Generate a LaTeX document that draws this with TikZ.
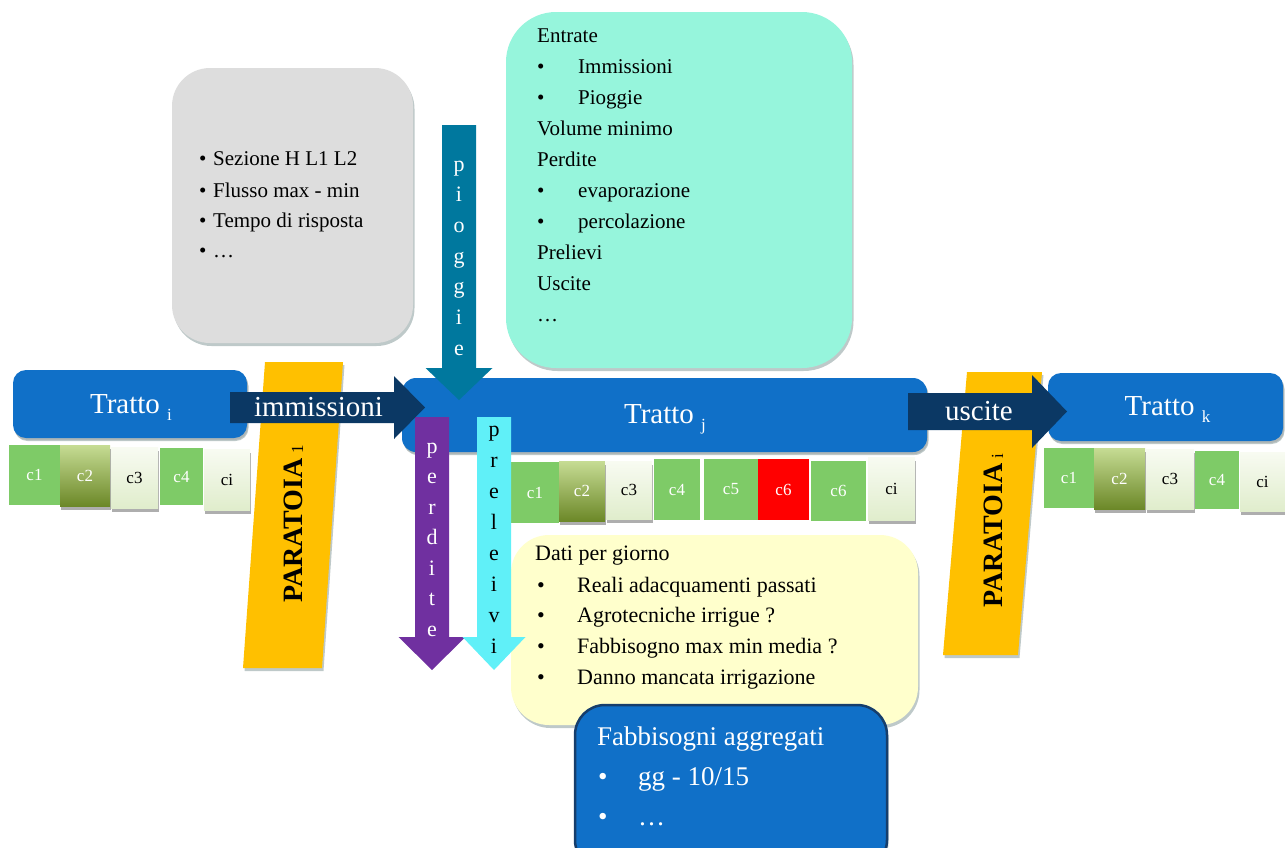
\documentclass[tikz,border=0pt]{standalone}
\usepackage{fontspec}
\setmainfont{Liberation Serif}
\usetikzlibrary{shadows}

\definecolor{trattoblue}{RGB}{16,112,200}
\definecolor{navyarrow}{RGB}{11,56,100}
\definecolor{rainarrow}{RGB}{0,120,158}
\definecolor{lossarrow}{RGB}{112,48,160}
\definecolor{drawarrow}{RGB}{96,240,248}
\definecolor{panelgray}{RGB}{221,221,221}
\definecolor{panelmint}{RGB}{150,245,220}
\definecolor{panelcream}{RGB}{255,255,204}
\definecolor{gateyellow}{RGB}{255,192,0}
\definecolor{cropgreen}{RGB}{126,203,103}
\definecolor{olivetop}{RGB}{198,220,148}
\definecolor{olivebot}{RGB}{108,136,40}
\definecolor{paletop}{RGB}{248,251,242}
\definecolor{palebot}{RGB}{224,237,204}
\definecolor{boxedge}{RGB}{22,62,108}
\definecolor{shadowtone}{RGB}{70,100,100}

\newcommand\fsz[1]{\fontsize{#1}{#1}\selectfont}
\newcommand\lowsub[1]{\ \raisebox{-7pt}{\fsz{17}#1}}

% crop cell: name, x1, x2, y1, y2, style, label
\newcommand\cellbox[7]{%
  \node[cell,#6,minimum width={(#3-#2)*1pt},minimum height={(#5-#4)*1pt}]
    (#1) at ({(#2+#3)/2},{(#4+#5)/2}) {#7};}

% horizontal block arrow: x0, x1 (head base), xtip, ymid, half shaft, half head, colour
\newcommand\harrow[7]{%
  \fill[#7] (#1,#4-#5) -- (#2,#4-#5) -- (#2,#4-#6) -- (#3,#4)
     -- (#2,#4+#6) -- (#2,#4+#5) -- (#1,#4+#5) -- cycle;}
% vertical block arrow: xmid, y0, y1 (head base), ytip, half shaft, half head, colour
\newcommand\varrow[7]{%
  \fill[#7] (#1-#5,#2) -- (#1+#5,#2) -- (#1+#5,#3) -- (#1+#6,#3) -- (#1,#4)
     -- (#1-#6,#3) -- (#1-#5,#3) -- cycle;}

% text lines inside the panels
\newcommand\plainline[4]{\node[paneltext] (#1) at (#2,#3) {#4};}
\newcommand\dotline[5]{\node[paneltext] (#1b) at (#2,#4) {•};
  \node[paneltext] (#1) at (#3,#4) {#5};}

\tikzset{
  panelshadow/.style={drop shadow={shadow xshift=1.5pt,shadow yshift=-3pt,opacity=0.35,fill=shadowtone}},
  panel/.style={inner sep=0pt,outer sep=0pt,panelshadow},
  cell/.style={inner sep=0pt,outer sep=0pt,font=\fsz{17}},
  cellshadow/.style={drop shadow={shadow xshift=1pt,shadow yshift=-4pt,opacity=0.45,fill=black!70}},
  cellgreen/.style={fill=cropgreen,text=white},
  cellolive/.style={top color=olivetop,bottom color=olivebot,text=white,cellshadow},
  cellpale/.style={top color=paletop,bottom color=palebot,text=black,cellshadow},
  cellred/.style={fill=red,text=white},
  trattobox/.style={panel,fill=trattoblue,rounded corners=13pt,drop shadow={shadow xshift=1pt,shadow yshift=-2pt,opacity=0.25}},
  trattolabel/.style={inner sep=0pt,anchor=base,font=\fsz{29},text=white},
  flowlabel/.style={inner sep=0pt,anchor=base,font=\fsz{29},text=white},
  arrowletter/.style={inner sep=0pt,anchor=base,font=\fsz{22}},
  gatelabel/.style={inner sep=0pt,anchor=base west,rotate=90,font=\fsz{28}\bfseries},
  paneltext/.style={inner sep=0pt,anchor=base west,font=\fsz{21}},
}

\begin{document}
\begin{tikzpicture}[x=1pt,y=-1pt]
\useasboundingbox (0,0) rectangle (1285,847);
\clip (0,0) rectangle (1285,847);

% ---------- information panels ----------
\node[panel,fill=panelgray,rounded corners=38pt,minimum width=241pt,minimum height=275pt] (spec) at (292.5,205.5) {};
\node[panel,fill=panelmint,rounded corners=50pt,minimum width=346pt,minimum height=356pt] (balance) at (679,190) {};
\node[panel,fill=panelcream,rounded corners=38pt,minimum width=407pt,minimum height=190pt] (daily) at (714.5,630) {};
\node[panel,fill=trattoblue,draw=boxedge,line width=2.5pt,rounded corners=30pt,minimum width=312pt,minimum height=165pt] (needs) at (731,787.5) {};

% gray panel text
\dotline{s1}{199}{213}{165}{Sezione H L1 L2}
\dotline{s2}{199}{213}{197}{Flusso max - min}
\dotline{s3}{199}{213}{227}{Tempo di risposta}
\dotline{s4}{199}{213}{257}{…}

% mint panel text
\plainline{b1}{537}{42}{Entrate}
\dotline{b2}{537}{578}{73}{Immissioni}
\dotline{b3}{537}{578}{104}{Pioggie}
\plainline{b4}{537}{135}{Volume minimo}
\plainline{b5}{537}{166}{Perdite}
\dotline{b6}{537}{578}{197}{evaporazione}
\dotline{b7}{537}{578}{228}{percolazione}
\plainline{b8}{537}{259}{Prelievi}
\plainline{b9}{537}{290}{Uscite}
\plainline{b10}{537}{321}{…}

% cream panel text
\begin{scope}[paneltext/.append style={font=\fsz{22}}]
\plainline{d1}{535}{560}{Dati per giorno}
\dotline{d2}{537}{577}{592}{Reali adacquamenti passati}
\dotline{d3}{537}{577}{622}{Agrotecniche irrigue ?}
\dotline{d4}{537}{577}{653}{Fabbisogno max min media ?}
\dotline{d5}{537}{577}{684}{Danno mancata irrigazione}
\end{scope}

% ---------- gates ----------
\fill[gateyellow,panelshadow] (265,362) -- (343,362) -- (322,668) -- (243,668) -- cycle;
\fill[gateyellow,panelshadow] (967,372) -- (1042,372) -- (1018,655) -- (943,655) -- cycle;
\node[gatelabel] (gate1) at (302,603) {PARATOIA\raisebox{-1pt}{\fsz{17}\mdseries\ 1}};
\node[gatelabel] (gatei) at (1002,608) {PARATOIA\raisebox{-1pt}{\fsz{17}\mdseries\ i}};

% ---------- channel reaches ----------
\node[trattobox,minimum width=234pt,minimum height=68pt] (ti) at (130,404) {};
\node[trattobox,minimum width=525pt,minimum height=74pt,rounded corners=14pt] (tj) at (664.5,415) {};
\node[trattobox,minimum width=235pt,minimum height=68pt] (tk) at (1165.5,407) {};
\node[trattolabel] (til) at (131,413) {Tratto\lowsub{i}};
\node[trattolabel] (tjl) at (665,423) {Tratto\lowsub{j}};
\node[trattolabel] (tkl) at (1167.5,415) {Tratto\lowsub{k}};

% ---------- crop cells ----------
\cellbox{li1}{9}{60}{445}{505}{cellgreen}{c1}
\cellbox{li2}{60}{110}{445}{506}{cellolive}{c2}
\cellbox{li3}{111}{158}{447}{508}{cellpale}{c3}
\cellbox{li4}{160}{203}{448}{505}{cellgreen}{c4}
\cellbox{li5}{204}{250}{449}{510}{cellpale}{ci}

\cellbox{mj1}{511}{559}{462}{523}{cellgreen}{c1}
\cellbox{mj2}{559}{605}{461}{521}{cellolive}{c2}
\cellbox{mj3}{606}{652}{461}{519}{cellpale}{c3}
\cellbox{mj4}{654}{700}{459}{520}{cellgreen}{c4}
\cellbox{mj5}{704}{758}{459}{520}{cellgreen}{c5}
\cellbox{mj6}{758}{809}{459}{520}{cellred}{c6}
\cellbox{mj7}{811}{866}{461}{521}{cellgreen}{c6}
\cellbox{mj8}{868}{915}{457}{520}{cellpale}{ci}

\cellbox{rk1}{1044}{1094}{448}{508}{cellgreen}{c1}
\cellbox{rk2}{1094}{1145}{448}{509}{cellolive}{c2}
\cellbox{rk3}{1146}{1194}{449}{509}{cellpale}{c3}
\cellbox{rk4}{1195}{1239}{451}{509}{cellgreen}{c4}
\cellbox{rk5}{1240}{1285}{452}{511}{cellpale}{ci}

% ---------- flows ----------
\varrow{459}{125}{368}{400}{17}{33.5}{rainarrow}
\foreach \ch [count=\k] in {p,i,o,g,g,i,e}
  \node[arrowletter,text=white] (rain\k) at (459,{171+30.7*(\k-1)}) {\ch};

\varrow{432}{417}{637}{670}{17}{33.5}{lossarrow}
\foreach \ch [count=\k] in {p,e,r,d,i,t,e}
  \node[arrowletter,text=white] (loss\k) at (432,{453+30.5*(\k-1)}) {\ch};

\varrow{494}{417}{637}{670}{17}{31.5}{drawarrow}
\foreach \ch [count=\k] in {p,r,e,l,e,i,v,i}
  \node[arrowletter,text=black] (draw\k) at (494,{436+31*(\k-1)}) {\ch};

\harrow{230}{394}{425}{407.5}{15.5}{31.5}{navyarrow}
\node[flowlabel] (inflow) at (318.5,416) {immissioni};
\harrow{908}{1032}{1067}{411.5}{18.5}{36.5}{navyarrow}
\node[flowlabel] (outflow) at (979,420) {uscite};

% ---------- aggregated needs panel text ----------
\begin{scope}[paneltext/.append style={font=\fsz{27},text=white}]
\plainline{n1}{597}{745}{Fabbisogni aggregati}
\dotline{n2}{598}{638}{785}{gg - 10/15}
\dotline{n3}{598}{638}{825}{…}
\end{scope}
\end{tikzpicture}
\end{document}
